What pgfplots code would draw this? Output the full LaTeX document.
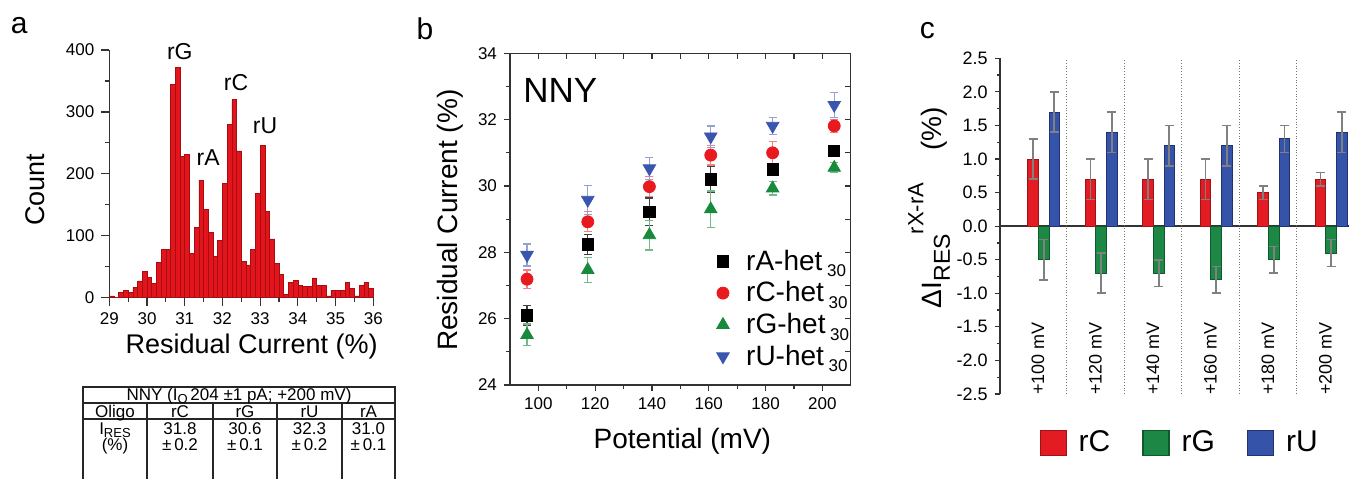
\documentclass[border=0pt]{standalone}
\usepackage{fontspec}
\setmainfont{Liberation Sans}
\usepackage{pgfplots}
\pgfplotsset{compat=1.18}

\definecolor{histred}{HTML}{E3141B}
\definecolor{histedge}{HTML}{A50F12}
\definecolor{bred}{HTML}{E8191F}
\definecolor{bgreen}{HTML}{178A3C}
\definecolor{bblue}{HTML}{3A55B0}
\definecolor{cred}{HTML}{E31B23}
\definecolor{credge}{HTML}{9E1218}
\definecolor{cgreen}{HTML}{1D8845}
\definecolor{cgreenedge}{HTML}{0E5A2A}
\definecolor{cblue}{HTML}{3553A8}
\definecolor{cblueedge}{HTML}{1F3272}
\definecolor{axisgray}{HTML}{333333}

\newcommand\tk{\fontsize{8.5}{10}\selectfont}
\newcommand\lb{\fontsize{13.5}{15}\selectfont}
\newcommand\pl{\fontsize{15}{16}\selectfont}
\newcommand\tb{\fontsize{8.5}{9}\selectfont}
\newcommand\het[1]{#1-het\,\raisebox{-0.45ex}{\fontsize{8.5}{9}\selectfont 30}}

\pgfplotsset{
  common/.style={
    scale only axis, anchor=south west, clip=false,
    tick label style={font=\tk},
    /pgf/number format/assume math mode=true,
    label style={font=\lb},
    axis line style={line width=0.7pt, axisgray},
    tick style={line width=0.6pt, axisgray},
  },
  errc/.style={error bars/.cd, y dir=both, y explicit,
    error bar style={gray, line width=0.8pt},
    error mark options={gray, rotate=90, mark size=2.2pt, line width=0.8pt}},
}

\begin{document}
\begin{tikzpicture}
\path[use as bounding box] (0,0) rectangle (674.5pt,239pt);

% panel labels
\node[font=\pl] at (9.6pt,226pt) {a};
\node[font=\pl] at (212.5pt,224.8pt) {b};
\node[font=\pl] at (463.7pt,223.5pt) {c};

% ---------- a: histogram ----------
\begin{axis}[common,
  at={(54.65pt,90.15pt)}, width=132pt, height=123.85pt,
  xmin=29, xmax=36, ymin=0, ymax=400,
  axis lines=left, axis line style={-},
  tick align=outside,
  xtick={29,...,36}, ytick={0,100,...,400},
  minor x tick num=1, minor y tick num=1,
  major tick length=4pt, minor tick length=2.3pt,
  xlabel={Residual Current (\%)}, ylabel={Count},
  xlabel style={at={(axis description cs:0.539,-0.198)}, anchor=center},
  ylabel style={at={(axis description cs:-0.28,0.435)}, anchor=center},
]
\addplot[ybar interval, fill=histred, draw=histedge, line width=0.3pt] coordinates {
(29.000,3) (29.125,0) (29.250,8) (29.375,12) (29.500,9) (29.625,17) (29.750,27) (29.875,43)
(30.000,33) (30.125,23) (30.250,57) (30.375,78) (30.500,78) (30.625,345) (30.750,372) (30.875,228)
(31.000,232) (31.125,72) (31.250,113) (31.375,190) (31.500,143) (31.625,105) (31.750,67) (31.875,93)
(32.000,185) (32.125,280) (32.250,320) (32.375,237) (32.500,58) (32.625,53) (32.750,78) (32.875,168)
(33.000,246) (33.125,140) (33.250,95) (33.375,55) (33.500,37) (33.625,5) (33.750,25) (33.875,28)
(34.000,20) (34.125,18) (34.250,18) (34.375,32) (34.500,20) (34.625,20) (34.750,3) (34.875,12)
(35.000,12) (35.125,12) (35.250,25) (35.375,15) (35.500,3) (35.625,20) (35.750,25) (35.875,15)
(36.000,15)};
\node[font=\fontsize{11.5}{12}\selectfont] at (axis cs:30.87,397) {rG};
\node[font=\fontsize{11.5}{12}\selectfont] at (axis cs:32.36,348) {rC};
\node[font=\fontsize{11.5}{12}\selectfont] at (axis cs:33.13,277) {rU};
\node[font=\fontsize{11.5}{12}\selectfont] at (axis cs:31.62,226) {rA};
\end{axis}

% table under panel a
\begin{scope}[line width=0.7pt, black!85]
\draw (41.5pt,-5pt) -- (41.5pt,45.5pt) -- (197.5pt,45.5pt) -- (197.5pt,-5pt);
\draw (41.5pt,37.5pt) -- (197.5pt,37.5pt);
\draw (41.5pt,29.5pt) -- (197.5pt,29.5pt);
\foreach \cx in {73.5,106.5,138.5,171} \draw (\cx pt,37.5pt) -- (\cx pt,-5pt);
\end{scope}
\begin{scope}[font=\tb, inner sep=0pt]
\node[anchor=base] at (119.5pt,38.8pt) {NNY (I\raisebox{-0.3ex}{\fontsize{6.5}{7}\selectfont O}\,204 ±1 pA; +200 mV)};
\node[anchor=base] at (57.5pt,30.2pt) {Oligo};
\node[anchor=base] at (90pt,30.2pt) {rC};
\node[anchor=base] at (122.5pt,30.2pt) {rG};
\node[anchor=base] at (154.75pt,30.2pt) {rU};
\node[anchor=base] at (184.25pt,30.2pt) {rA};
\node[anchor=base] at (57.5pt,21.8pt) {I\raisebox{-0.35ex}{\fontsize{6.5}{7}\selectfont RES}};
\node[anchor=base] at (57.5pt,13.6pt) {(\%)};
\node[anchor=base] at (90pt,21.8pt) {31.8};
\node[anchor=base] at (122.5pt,21.8pt) {30.6};
\node[anchor=base] at (154.75pt,21.8pt) {32.3};
\node[anchor=base] at (184.25pt,21.8pt) {31.0};
\node[anchor=base] at (90pt,13.6pt) {±\,0.2};
\node[anchor=base] at (122.5pt,13.6pt) {±\,0.1};
\node[anchor=base] at (154.75pt,13.6pt) {±\,0.2};
\node[anchor=base] at (184.25pt,13.6pt) {±\,0.1};
\end{scope}

% ---------- b: residual current vs potential ----------
\begin{axis}[common,
  at={(255pt,46.5pt)}, width=170.35pt, height=165.85pt,
  xmin=90, xmax=210, ymin=24, ymax=34,
  xtick={100,120,...,200}, ytick={24,26,...,34},
  minor x tick num=1, minor y tick num=1,
  tick align=outside, xtick pos=left, ytick pos=left,
  major tick length=3pt, minor tick length=2pt,
  xlabel={Potential (mV)}, ylabel={Residual Current (\%)},
  label style={font=\fontsize{14}{15}\selectfont},
  xlabel style={at={(axis description cs:0.506,-0.169)}, anchor=center},
  ylabel style={at={(axis description cs:-0.176,0.497)}, anchor=center},
  legend style={at={(0.588,0.43)}, anchor=north west, draw=none, fill=none,
    font=\fontsize{14}{15}\selectfont, row sep=1.2pt,
    nodes={inner sep=1.5pt},
    /tikz/every odd column/.append style={column sep=7pt}},
  legend cell align=left,
  legend image code/.code={\draw[#1] plot coordinates {(0.15cm,0cm)};},
]
\addplot[only marks, mark=square*, mark size=2.8pt, black,
  error bars/.cd, y dir=both, y explicit,
  error bar style={black!75, line width=0.6pt},
  error mark options={black!75, rotate=90, mark size=2pt, line width=0.6pt}]
  coordinates {(96,26.10)+-(0,0.3) (117.4,28.24)+-(0,0.3) (139.1,29.22)+-(0,0.42)
    (160.7,30.20)+-(0,0.4) (182.5,30.50)+-(0,0.15) (204.2,31.05)+-(0,0.15)};
\addplot[only marks, mark=*, mark size=3pt, bred,
  error bars/.cd, y dir=both, y explicit,
  error bar style={bred!55, line width=0.6pt},
  error mark options={bred!55, rotate=90, mark size=2pt, line width=0.6pt}]
  coordinates {(96,27.19)+-(0,0.28) (117.4,28.92)+-(0,0.3) (139.1,29.98)+-(0,0.3)
    (160.7,30.93)+-(0,0.3) (182.5,31.0)+-(0,0.35) (204.2,31.81)+-(0,0.2)};
\addplot[only marks, mark=triangle*, mark size=3.6pt, bgreen,
  error bars/.cd, y dir=both, y explicit,
  error bar style={bgreen!60, line width=0.6pt},
  error mark options={bgreen!60, rotate=90, mark size=2pt, line width=0.6pt}]
  coordinates {(96,25.51)+-(0,0.33) (117.4,27.47)+-(0,0.37) (139.1,28.52)+-(0,0.45)
    (160.7,29.30)+-(0,0.55) (182.5,29.93)+-(0,0.2) (204.2,30.55)+-(0,0.15)};
\addplot[only marks, mark=triangle*, mark options={rotate=180}, mark size=3.6pt, bblue,
  error bars/.cd, y dir=both, y explicit,
  error bar style={bblue!55, line width=0.6pt},
  error mark options={bblue!55, rotate=90, mark size=2pt, line width=0.6pt}]
  coordinates {(96,27.92)+-(0,0.33) (117.4,29.58)+-(0,0.43) (139.1,30.53)+-(0,0.33)
    (160.7,31.49)+-(0,0.32) (182.5,31.81)+-(0,0.26) (204.2,32.44)+-(0,0.37)};
\legend{\het{rA},\het{rC},\het{rG},\het{rU}}
\node[font=\fontsize{17.5}{18}\selectfont] at (axis cs:107.7,32.87) {NNY};
\end{axis}
% mirrored inside ticks on top and right of panel b
\begin{axis}[common,
  at={(255pt,46.5pt)}, width=170.35pt, height=165.85pt,
  xmin=90, xmax=210, ymin=24, ymax=34,
  xtick={100,110,...,200}, ytick={25,...,33},
  xticklabels={}, yticklabels={},
  tick align=inside, xtick pos=right, ytick pos=right,
  major tick length=3pt,
]
\end{axis}

% ---------- c: difference bars ----------
\begin{axis}[common,
  at={(500pt,42pt)}, width=177.1pt, height=167.85pt,
  xmin=0.24, xmax=6.4, ymin=-2.5, ymax=2.5,
  axis y line=left, axis x line=middle, axis line style={-},
  xtick=\empty,
  ytick={-2.5,-2,...,2.5}, minor y tick num=1,
  tick align=outside, major tick length=2.6pt, minor tick length=1.6pt,
  tick label style={font=\fontsize{9}{10}\selectfont},
  yticklabel style={/pgf/number format/.cd, fixed, fixed zerofill, precision=1},
  extra x ticks={1.4,2.4,3.4,4.4,5.4}, extra x tick labels={},
  extra x tick style={grid=major, major tick length=0pt,
    major grid style={densely dotted, line width=0.5pt, black!55}},
  ylabel={\fontsize{14}{15}\selectfont ΔI\raisebox{-0.55ex}{\fontsize{11.5}{12}\selectfont RES}\raisebox{1.25ex}{\fontsize{11}{12}\selectfont rX-rA}\hspace{16pt}(\%)},
  ylabel style={at={(axis description cs:-0.2,0.555)}, anchor=center},
  legend columns=3,
  legend style={at={(0.51,-0.146)}, anchor=center, draw=none, fill=none,
    font=\fontsize{15}{16}\selectfont,
    /tikz/every odd column/.append style={column sep=4pt},
    /tikz/every even column/.append style={column sep=14pt}},
  legend image code/.code={\draw[#1, line width=0.6pt] (0pt,-6.3pt) rectangle (13pt,6.3pt);},
  bar width=0.184,
]
\addplot[ybar, bar shift=0, fill=cred, draw=credge, line width=0.5pt, errc]
  coordinates {(0.816,1.0)+-(0,0.3) (1.816,0.7)+-(0,0.3) (2.816,0.7)+-(0,0.3)
    (3.816,0.7)+-(0,0.3) (4.816,0.5)+-(0,0.1) (5.816,0.7)+-(0,0.1)};
\addplot[ybar, bar shift=0, fill=cgreen, draw=cgreenedge, line width=0.5pt, errc]
  coordinates {(1,-0.5)+-(0,0.3) (2,-0.7)+-(0,0.3) (3,-0.7)+-(0,0.2)
    (4,-0.8)+-(0,0.2) (5,-0.5)+-(0,0.2) (6,-0.4)+-(0,0.2)};
\addplot[ybar, bar shift=0, fill=cblue, draw=cblueedge, line width=0.5pt, errc]
  coordinates {(1.184,1.7)+-(0,0.3) (2.184,1.4)+-(0,0.3) (3.184,1.2)+-(0,0.3)
    (4.184,1.2)+-(0,0.3) (5.184,1.3)+-(0,0.2) (6.184,1.4)+-(0,0.3)};
\legend{rC,rG,rU}
\begin{scope}[font=\fontsize{9}{10}\selectfont, inner sep=0pt]
\node[rotate=90, anchor=west] at (axis cs:0.9,-2.52) {+100 mV};
\node[rotate=90, anchor=west] at (axis cs:1.9,-2.52) {+120 mV};
\node[rotate=90, anchor=west] at (axis cs:2.9,-2.52) {+140 mV};
\node[rotate=90, anchor=west] at (axis cs:3.9,-2.52) {+160 mV};
\node[rotate=90, anchor=west] at (axis cs:4.9,-2.52) {+180 mV};
\node[rotate=90, anchor=west] at (axis cs:5.9,-2.52) {+200 mV};
\end{scope}
\end{axis}
\end{tikzpicture}
\end{document}
